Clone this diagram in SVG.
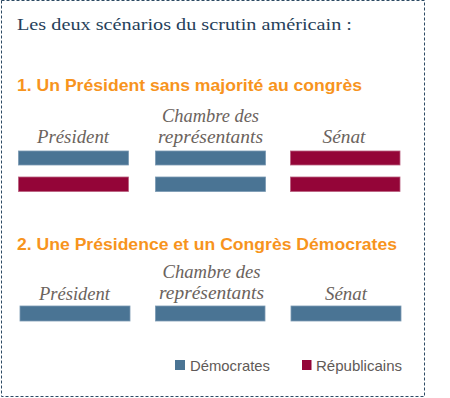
<svg xmlns="http://www.w3.org/2000/svg" width="450" height="398" viewBox="0 0 450 398">
<style>
.title{font-family:"Liberation Serif",serif;font-size:17.5px;fill:#263f5a}
.head{font-family:"Liberation Sans",Arial,sans-serif;font-size:16.5px;font-weight:bold;fill:#f7941d}
.lab{font-family:"Liberation Serif",serif;font-style:italic;font-size:18px;fill:#6b635d;text-anchor:middle}
.leg{font-family:"Liberation Sans",Arial,sans-serif;font-size:14.5px;fill:#5f5a57}
.dem{fill:#4a7494;stroke:#7b9ab2;stroke-width:0.8}
.rep{fill:#940538;stroke:#b8607f;stroke-width:0.8}
</style>
<rect x="0" y="0" width="450" height="398" fill="#ffffff"/>
<rect x="1.5" y="0.5" width="423" height="396" fill="none" stroke="#2d4a64" stroke-width="1" stroke-dasharray="3 2"/>
<text class="title" x="17" y="30" textLength="335" lengthAdjust="spacingAndGlyphs">Les deux scénarios du scrutin américain :</text>
<g id="scenario1">
<text class="head" x="17" y="91" textLength="345" lengthAdjust="spacingAndGlyphs">1. Un Président sans majorité au congrès</text>
<g id="s1-president">
<text class="lab" x="73" y="143" textLength="72" lengthAdjust="spacingAndGlyphs">Président</text>
<rect class="dem" x="18.5" y="151" width="110" height="14"/>
<rect class="rep" x="18.5" y="177" width="110" height="14.5"/>
</g>
<g id="s1-chambre">
<text class="lab" x="210.5" y="121.5" textLength="97" lengthAdjust="spacingAndGlyphs">Chambre des</text>
<text class="lab" x="210.5" y="142.5" textLength="105" lengthAdjust="spacingAndGlyphs">représentants</text>
<rect class="dem" x="155.5" y="151" width="110" height="14"/>
<rect class="dem" x="155.5" y="177" width="110" height="14.5"/>
</g>
<g id="s1-senat">
<text class="lab" x="344" y="143" textLength="43" lengthAdjust="spacingAndGlyphs">Sénat</text>
<rect class="rep" x="290.5" y="151" width="109.5" height="14"/>
<rect class="rep" x="290.5" y="177" width="109.5" height="14.5"/>
</g>
</g>
<g id="scenario2">
<text class="head" x="17" y="249.5" textLength="380" lengthAdjust="spacingAndGlyphs">2. Une Présidence et un Congrès Démocrates</text>
<g id="s2-president">
<text class="lab" x="74.5" y="299.5" textLength="71" lengthAdjust="spacingAndGlyphs">Président</text>
<rect class="dem" x="20" y="306" width="110" height="15"/>
</g>
<g id="s2-chambre">
<text class="lab" x="211.5" y="277.5" textLength="98" lengthAdjust="spacingAndGlyphs">Chambre des</text>
<text class="lab" x="211.5" y="298.5" textLength="105" lengthAdjust="spacingAndGlyphs">représentants</text>
<rect class="dem" x="155.5" y="306" width="109.5" height="15"/>
</g>
<g id="s2-senat">
<text class="lab" x="346" y="299.5" textLength="42" lengthAdjust="spacingAndGlyphs">Sénat</text>
<rect class="dem" x="291" y="306" width="110" height="15"/>
</g>
</g>
<g id="legend">
<rect x="175" y="360" width="10" height="10" fill="#4a7494"/>
<text class="leg" x="190" y="371" textLength="80" lengthAdjust="spacingAndGlyphs">Démocrates</text>
<rect x="302" y="360" width="9.5" height="10" fill="#940538"/>
<text class="leg" x="316" y="371" textLength="86" lengthAdjust="spacingAndGlyphs">Républicains</text>
</g>
<g id="connectors"/>
</svg>
